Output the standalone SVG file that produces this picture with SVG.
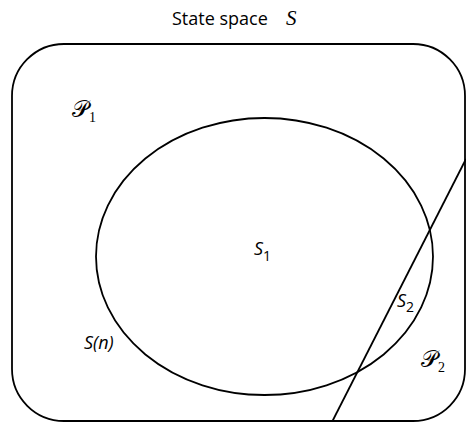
<svg xmlns="http://www.w3.org/2000/svg" width="466" height="422" viewBox="0 0 466 422">
<style>
.shape{fill:none;stroke:#000;stroke-width:1.8}
.t{font-family:"Open Sans","Liberation Sans",sans-serif;font-size:18px;fill:#000}
.it{font-family:"Open Sans","Liberation Sans",sans-serif;font-style:italic;font-size:18px;fill:#000}
.sc{font-family:"DejaVu Serif","DejaVu Sans",serif;font-size:23px;fill:#000}
.sub{font-family:"Liberation Serif",serif;font-style:normal;font-size:14px}
.subs{font-family:"Open Sans","Liberation Sans",sans-serif;font-style:normal;font-size:14px}
</style>
<rect width="466" height="422" fill="#fff"/>
<g id="title"><text class="t" x="172" y="25">State space<tspan font-family="Liberation Serif,serif" font-style="italic" font-size="21" x="286">S</tspan></text></g>
<g id="stateSpace"><rect class="shape" x="12" y="44" width="453" height="377" rx="52" ry="52"/></g>
<g id="S1set"><ellipse class="shape" cx="264.5" cy="256.5" rx="168.5" ry="138.5"/></g>
<g id="connectors"><line class="shape" x1="466" y1="159" x2="332" y2="422"/></g>
<g id="P1"><text class="sc" x="72" y="117">𝒫<tspan class="sub" dy="5">1</tspan></text></g>
<g id="S1"><text class="it" x="254" y="255">S<tspan class="subs" dy="6">1</tspan></text></g>
<g id="S2"><text class="it" x="397" y="307">S<tspan class="subs" dy="5">2</tspan></text></g>
<g id="Sn"><text class="it" x="84" y="349">S(n)</text></g>
<g id="P2"><text class="sc" x="421" y="367">𝒫<tspan class="sub" dy="5">2</tspan></text></g>
</svg>
